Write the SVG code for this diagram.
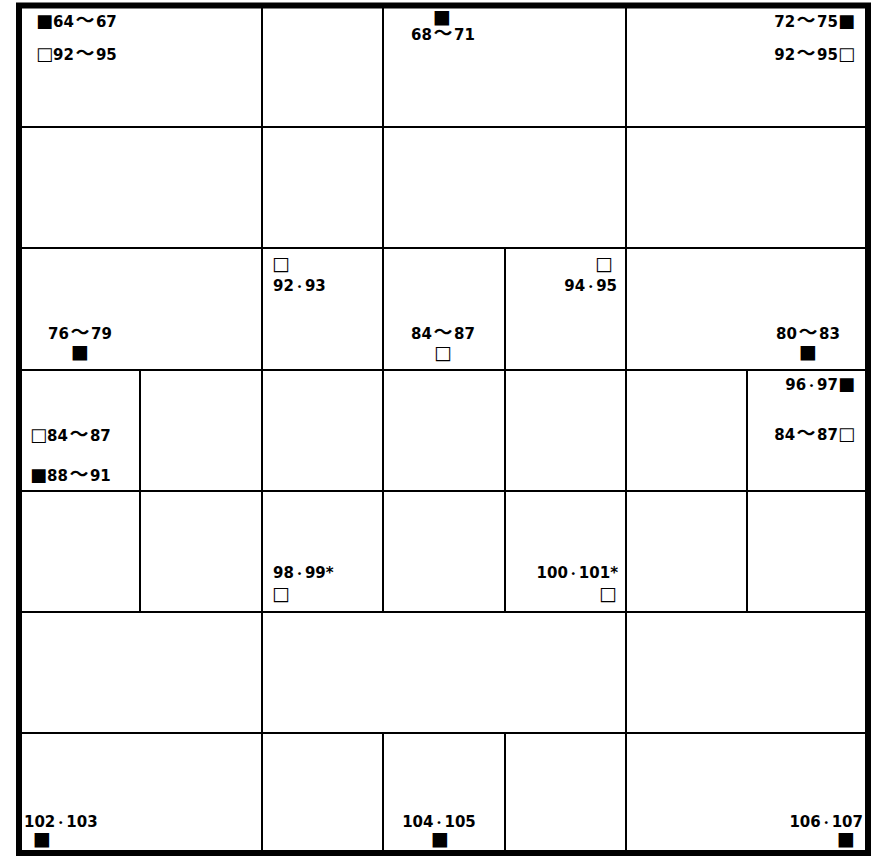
<svg xmlns="http://www.w3.org/2000/svg" width="881" height="856" viewBox="0 0 881 856">
<style>
.t{font-family:"DejaVu Sans","Noto Sans CJK JP",sans-serif;font-weight:bold;font-size:15px;fill:#000}
.w{font-family:"Noto Sans CJK JP",sans-serif;font-size:19px;letter-spacing:1.5px}
.d{font-family:"Noto Sans CJK JP",sans-serif;font-size:11px}
.s{font-family:"DejaVu Sans",sans-serif;font-size:18px}
.q{font-family:"DejaVu Sans",sans-serif;font-size:19px}
.g{stroke:#000;stroke-width:2;fill:none}
.b{stroke:#000;stroke-width:6;fill:none}
</style>
<rect x="0" y="0" width="881" height="856" fill="#fff"/>
<g id="connectors">
<g class="g">
<line x1="19" y1="127" x2="868" y2="127"/>
<line x1="19" y1="248" x2="868" y2="248"/>
<line x1="19" y1="370" x2="868" y2="370"/>
<line x1="19" y1="491" x2="868" y2="491"/>
<line x1="19" y1="612" x2="868" y2="612"/>
<line x1="19" y1="733" x2="868" y2="733"/>
<line x1="262" y1="5" x2="262" y2="853"/>
<line x1="626" y1="5" x2="626" y2="853"/>
<line x1="383" y1="5" x2="383" y2="612"/>
<line x1="383" y1="733" x2="383" y2="853"/>
<line x1="505" y1="248" x2="505" y2="612"/>
<line x1="505" y1="733" x2="505" y2="853"/>
<line x1="140" y1="370" x2="140" y2="612"/>
<line x1="747" y1="370" x2="747" y2="612"/>
</g>
<rect class="b" x="19" y="5.5" width="849" height="847.5"/>
</g>
<g id="n-r1c1">
<text class="t" x="36" y="27"><tspan class="s">■</tspan>64<tspan class="w" dx="1.5">～</tspan>67</text>
<text class="t" x="36" y="60"><tspan class="s">□</tspan>92<tspan class="w" dx="1.5">～</tspan>95</text>
</g>
<g id="n-r1c2">
<text class="t" text-anchor="middle"><tspan class="q" x="442" y="23">■</tspan><tspan x="443" y="40">68</tspan><tspan class="w" dx="1.5">～</tspan><tspan>71</tspan></text>
</g>
<g id="n-r1c3">
<text class="t" x="855" y="27" text-anchor="end">72<tspan class="w" dx="1.5">～</tspan>75<tspan class="s">■</tspan></text>
<text class="t" x="855" y="60" text-anchor="end">92<tspan class="w" dx="1.5">～</tspan>95<tspan class="s">□</tspan></text>
</g>
<g id="n-r3c1">
<text class="t" text-anchor="middle"><tspan x="80" y="339">76</tspan><tspan class="w" dx="1.5">～</tspan><tspan>79</tspan><tspan class="q" x="80" y="358">■</tspan></text>
</g>
<g id="n-r3c2">
<text class="t"><tspan class="q" x="272" y="270">□</tspan><tspan x="273" y="291">92</tspan><tspan class="d">・</tspan><tspan>93</tspan></text>
</g>
<g id="n-r3c3">
<text class="t" text-anchor="middle"><tspan x="443" y="339">84</tspan><tspan class="w" dx="1.5">～</tspan><tspan>87</tspan><tspan class="q" x="443" y="359">□</tspan></text>
</g>
<g id="n-r3c4">
<text class="t" text-anchor="end"><tspan class="q" x="613" y="270">□</tspan><tspan x="617" y="291">94</tspan><tspan class="d">・</tspan><tspan>95</tspan></text>
</g>
<g id="n-r3c5">
<text class="t" text-anchor="middle"><tspan x="808" y="339">80</tspan><tspan class="w" dx="1.5">～</tspan><tspan>83</tspan><tspan class="q" x="808" y="358">■</tspan></text>
</g>
<g id="n-r4c1">
<text class="t" x="30" y="441"><tspan class="s">□</tspan>84<tspan class="w" dx="1.5">～</tspan>87</text>
<text class="t" x="30" y="481"><tspan class="s">■</tspan>88<tspan class="w" dx="1.5">～</tspan>91</text>
</g>
<g id="n-r4c7">
<text class="t" x="855" y="390" text-anchor="end">96<tspan class="d">・</tspan>97<tspan class="s">■</tspan></text>
<text class="t" x="855" y="440" text-anchor="end">84<tspan class="w" dx="1.5">～</tspan>87<tspan class="s">□</tspan></text>
</g>
<g id="n-r5c3">
<text class="t"><tspan x="273" y="578">98</tspan><tspan class="d">・</tspan><tspan>99*</tspan><tspan class="q" x="272" y="600">□</tspan></text>
</g>
<g id="n-r5c5">
<text class="t" text-anchor="end"><tspan x="618" y="578">100</tspan><tspan class="d">・</tspan><tspan>101*</tspan><tspan class="q" x="617" y="600">□</tspan></text>
</g>
<g id="n-r7c1">
<text class="t"><tspan x="24" y="827">102</tspan><tspan class="d">・</tspan><tspan>103</tspan><tspan class="q" x="33" y="845">■</tspan></text>
</g>
<g id="n-r7c3">
<text class="t" text-anchor="middle"><tspan x="439" y="827">104</tspan><tspan class="d">・</tspan><tspan>105</tspan><tspan class="q" x="440" y="845">■</tspan></text>
</g>
<g id="n-r7c5">
<text class="t" text-anchor="end"><tspan x="863" y="827">106</tspan><tspan class="d">・</tspan><tspan>107</tspan><tspan class="q" x="855" y="845">■</tspan></text>
</g>
</svg>
